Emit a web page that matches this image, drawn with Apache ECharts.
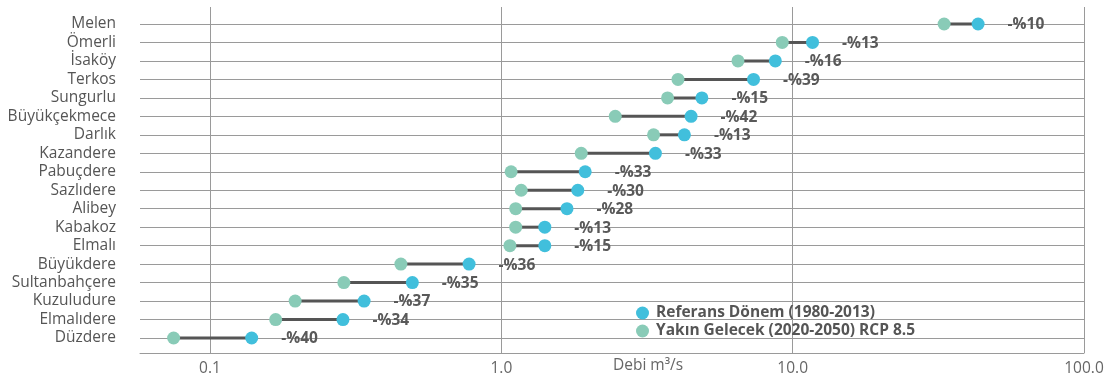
<!DOCTYPE html>
<html>
<head>
<meta charset="utf-8">
<script src="https://cdn.jsdelivr.net/npm/echarts@6/dist/echarts.min.js"></script>
<style>
  html, body { margin: 0; padding: 0; background: #ffffff; }
  #chart { width: 1112px; height: 379px; }
</style>
</head>
<body>
<div id="chart"></div>
<script>
// Streams, top to bottom
const categories = ['Melen', 'Ömerli', 'İsaköy', 'Terkos', 'Sungurlu', 'Büyükçekmece', 'Darlık',
  'Kazandere', 'Pabuçdere', 'Sazlıdere', 'Alibey', 'Kabakoz', 'Elmalı', 'Büyükdere',
  'Sultanbahçere', 'Kuzuludure', 'Elmalıdere', 'Düzdere'];

// Mean discharge (m³/s), reference period 1980-2013
const referans = [43.3, 11.7, 8.72, 7.34, 4.88, 4.48, 4.25, 3.38, 1.94, 1.83, 1.68, 1.41, 1.41,
  0.775, 0.495, 0.338, 0.286, 0.139];

// Mean discharge (m³/s), near future 2020-2050 under RCP 8.5
const yakinGelecek = [33.1, 9.21, 6.49, 4.04, 3.72, 2.46, 3.33, 1.88, 1.08, 1.17, 1.12, 1.12, 1.07,
  0.452, 0.288, 0.196, 0.168, 0.075];

// Change labels shown next to each pair
const degisim = ['-%10', '-%13', '-%16', '-%39', '-%15', '-%42', '-%13', '-%33', '-%33', '-%30',
  '-%28', '-%13', '-%15', '-%36', '-%35', '-%37', '-%34', '-%40'];

const seriesNames = ['Referans Dönem (1980-2013)', 'Yakın Gelecek (2020-2050) RCP 8.5'];

const FONT = "'Open Sans', 'Noto Sans', sans-serif";
const FS = 15.5;
const BLUE = '#41bfdc';
const GREEN = '#89cbb7';
const GRID_GRAY = '#9a9a9a';
const X_MIN = 0.0575, X_MAX = 100;

const chart = echarts.init(document.getElementById('chart'), null, { renderer: 'canvas' });

const pairs = categories.map((c, i) => [yakinGelecek[i], referans[i], i]);

chart.setOption({
  animation: false,
  backgroundColor: '#ffffff',
  textStyle: { fontFamily: FONT },
  grid: [
    // frame: vertical grid lines and the bottom axis
    { left: 140, right: 28, top: 7, bottom: 26 },
    // rows of the dumbbells
    { left: 140, right: 28, top: 24, bottom: 41 }
  ],
  xAxis: [
    {
      type: 'log', gridIndex: 0, logBase: 10, min: X_MIN, max: X_MAX,
      axisLine: { show: true, lineStyle: { color: GRID_GRAY, width: 1 } },
      axisTick: { show: false },
      splitLine: { show: true, showMinLine: false, lineStyle: { color: GRID_GRAY, width: 1 } },
      axisLabel: {
        showMinLabel: false,
        margin: 8,
        color: '#666666', fontSize: FS, fontFamily: FONT,
        formatter: v => {
          const l = Math.log10(v);
          return Math.abs(l - Math.round(l)) < 1e-6 ? v.toFixed(1) : '';
        }
      }
    },
    {
      type: 'log', gridIndex: 1, logBase: 10, min: X_MIN, max: X_MAX, show: false
    }
  ],
  yAxis: [
    { type: 'value', gridIndex: 0, show: false, min: 0, max: 1 },
    {
      type: 'category', gridIndex: 1, data: categories, inverse: true, boundaryGap: false,
      axisLine: { show: false }, axisTick: { show: false },
      splitLine: { show: true, interval: 0, lineStyle: { color: GRID_GRAY, width: 1 } },
      axisLabel: {
        interval: 0, hideOverlap: false, margin: 24,
        color: '#555555', fontSize: FS, fontFamily: FONT
      }
    }
  ],
  legend: {
    orient: 'vertical', left: 631, top: 300,
    itemWidth: 13, itemHeight: 13, itemGap: 2,
    icon: 'circle',
    data: seriesNames,
    textStyle: {
      color: '#555555', fontSize: FS, fontWeight: 'bold', fontFamily: FONT,
      padding: [0, 0, 0, 2]
    }
  },
  graphic: [
    {
      type: 'text', left: 613, top: 358,
      style: { text: 'Debi m³/s', fill: '#666666', fontSize: FS, fontFamily: FONT }
    }
  ],
  series: [
    {
      type: 'custom', xAxisIndex: 1, yAxisIndex: 1, silent: true,
      data: pairs,
      encode: { x: [0, 1], y: 2 },
      renderItem: (params, api) => {
        const p1 = api.coord([api.value(0), api.value(2)]);
        const p2 = api.coord([api.value(1), api.value(2)]);
        return {
          type: 'line',
          shape: { x1: p1[0], y1: p1[1], x2: p2[0], y2: p2[1] },
          style: { stroke: '#555555', lineWidth: 3 }
        };
      },
      z: 2
    },
    {
      name: seriesNames[1], type: 'scatter', xAxisIndex: 1, yAxisIndex: 1,
      symbol: 'circle', symbolSize: 13,
      itemStyle: { color: GREEN, opacity: 1 },
      data: yakinGelecek.map((v, i) => [v, categories[i]]),
      z: 3
    },
    {
      name: seriesNames[0], type: 'scatter', xAxisIndex: 1, yAxisIndex: 1,
      symbol: 'circle', symbolSize: 13,
      itemStyle: { color: BLUE, opacity: 1 },
      data: referans.map((v, i) => [v, categories[i]]),
      label: {
        show: true, position: 'right', distance: 23, offset: [0, 1],
        formatter: p => degisim[p.dataIndex],
        color: '#595959', fontSize: FS, fontWeight: 'bold', fontFamily: FONT
      },
      z: 4
    }
  ]
});
</script>
</body>
</html>
